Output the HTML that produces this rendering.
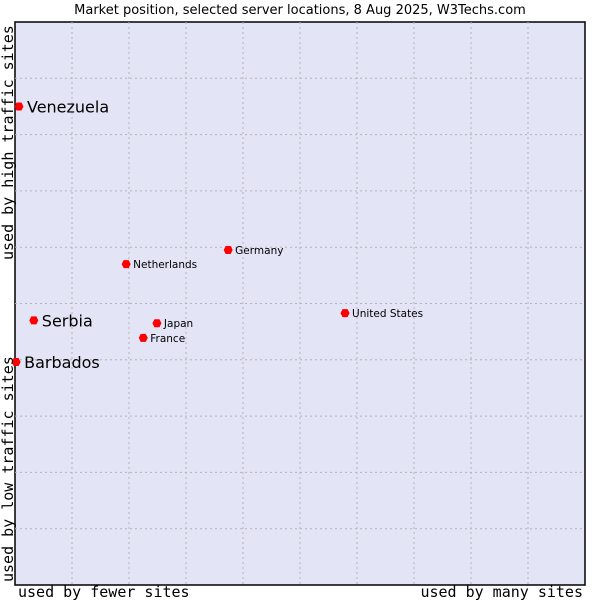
<!DOCTYPE html>
<html><head><meta charset="utf-8"><style>
body{margin:0;background:#fff;}
svg text{font-family:"DejaVu Sans","Liberation Sans",sans-serif;fill:#000;}
.mono{font-family:"DejaVu Sans Mono","Liberation Mono",monospace !important;}
</style></head><body>
<svg id="chart" width="600" height="600">
<text x="300" y="14" text-anchor="middle" font-size="13">Market position, selected server locations, 8 Aug 2025, W3Techs.com</text>
<rect x="15" y="22" width="570" height="563" fill="#e3e5f7" stroke="#000" stroke-width="1.5"/>
<g id="grid"></g>
<g id="pts"></g>
<text class="mono" x="18" y="597" font-size="15">used by fewer sites</text>
<text class="mono" x="583" y="597" font-size="15" text-anchor="end">used by many sites</text>
<text class="mono" transform="translate(13,260) rotate(-90)" font-size="15">used by high traffic sites</text>
<text class="mono" transform="translate(13,582) rotate(-90)" font-size="15">used by low traffic sites</text>
</svg>
<script>
const names=["Venezuela","Serbia","Barbados","Netherlands","Germany","United States","Japan","France"];
const xVals=[0.07,0.33,0.02,1.95,3.74,5.79,2.49,2.25];
const yVals=[8.5,4.7,3.96,5.7,5.95,4.83,4.65,4.39];
const highlighted=[true,true,true,false,false,false,false,false];
const X0=15,X1=585,Y0=585,Y1=22;
const sx=v=>X0+v/10*(X1-X0), sy=v=>Y0-v/10*(Y0-Y1);
const NS="http://www.w3.org/2000/svg";
const g=document.getElementById('grid');
for(let i=1;i<10;i++){
 const v=document.createElementNS(NS,'line');
 
 
 v.setAttribute('x1',sx(i));v.setAttribute('x2',sx(i));v.setAttribute('y1',Y1);v.setAttribute('y2',Y0);
 v.setAttribute('stroke','#b4b4b4');v.setAttribute('stroke-dasharray','2,3');g.appendChild(v);
 const h=document.createElementNS(NS,'line');
 
 
 h.setAttribute('y1',sy(i));h.setAttribute('y2',sy(i));h.setAttribute('x1',X0);h.setAttribute('x2',X1);
 h.setAttribute('stroke','#b4b4b4');h.setAttribute('stroke-dasharray','2,3');g.appendChild(h);
}
const p=document.getElementById('pts');
names.forEach((n,i)=>{
 const x=sx(xVals[i]),y=sy(yVals[i]);
 const c=document.createElementNS(NS,'path');
 
 
 c.setAttribute('d',`M${x-4.5},${y}L${x-2.5},${y-4}L${x+2.5},${y-4}L${x+4.5},${y}L${x+2.5},${y+4}L${x-2.5},${y+4}Z`);
 c.setAttribute('fill','#f00');p.appendChild(c);
 const t=document.createElementNS(NS,'text');
 
 
 const big=highlighted[i];
 t.setAttribute('x',x+(big?8:7));t.setAttribute('y',y+(big?6:4));
 t.setAttribute('font-size',big?16:10.5);t.textContent=n;p.appendChild(t);
});
</script>
</body></html>
